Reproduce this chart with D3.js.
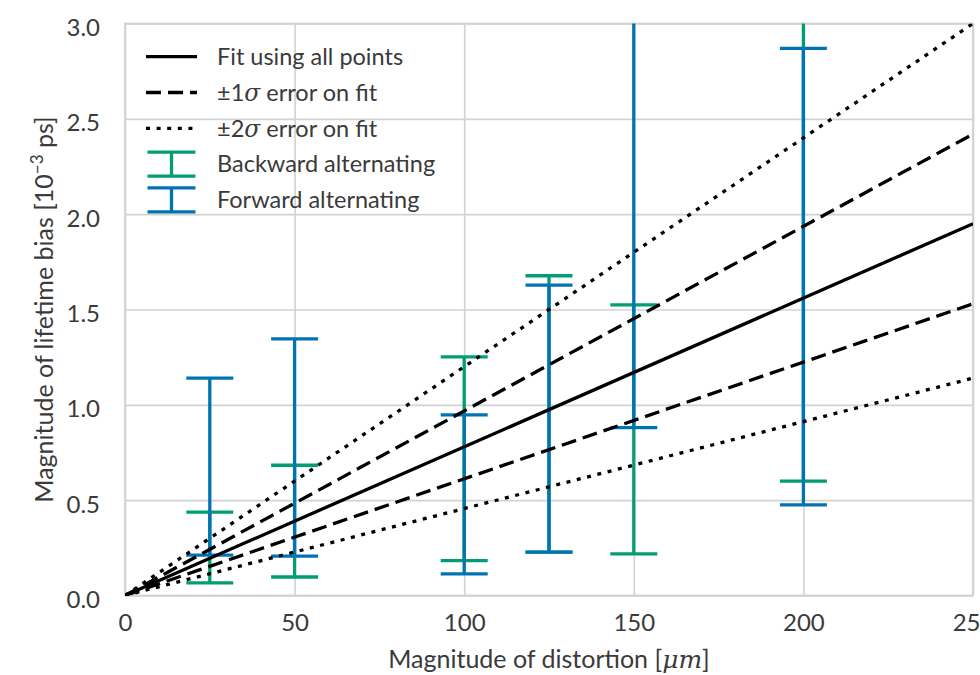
<!DOCTYPE html>
<html>
<head>
<meta charset="utf-8">
<script src="https://cdn.jsdelivr.net/npm/d3@7"></script>
<style>
  html, body { margin: 0; padding: 0; background: #ffffff; }
  svg { display: block; }
  text { font-family: "Lato", "Open Sans", sans-serif; fill: #3a3a3a; }
</style>
</head>
<body>
<svg id="chart" width="980" height="675"></svg>
<script>
// Distortion magnitudes (µm) at which the bias was measured
const distortion = [25, 50, 100, 125, 150, 200];

// Backward alternating: lower / upper ends of each error bar (10^-3 ps)
const backwardLow  = [0.066, 0.097, 0.183, 0.228, 0.218, 0.600];
const backwardHigh = [0.437, 0.683, 1.252, 1.677, 1.524, 3.300];

// Forward alternating: lower / upper ends of each error bar (10^-3 ps)
const forwardLow  = [0.212, 0.207, 0.113, 0.227, 0.880, 0.475];
const forwardHigh = [1.140, 1.346, 0.947, 1.628, 3.600, 2.870];

// Straight-line fit through the origin and its uncertainty band
const fitX       = [0, 250];
const fitCentral = [0, 1.95];
const fitPlus1   = [0, 2.42];
const fitMinus1  = [0, 1.53];
const fitPlus2   = [0, 3.00];
const fitMinus2  = [0, 1.14];

// Axis ticks
const xTicks = [0, 50, 100, 150, 200, 250];
const yTicks = [0, 0.5, 1.0, 1.5, 2.0, 2.5, 3.0];

const BLUE = "#0173b2";
const GREEN = "#029e73";
const GRID = "#d2d2d2";
const TEXT = "#404040";

const svg = d3.select("#chart");
const plot = { left: 125, right: 973, top: 23.5, bottom: 595.5 };

const x = d3.scaleLinear().domain([0, 250]).range([plot.left, plot.right]);
const y = d3.scaleLinear().domain([0, 3]).range([plot.bottom, plot.top]);

// Grid lines with tick labels (y then x)
const gridY = svg.append("g")
  .attr("transform", `translate(${plot.left},0)`)
  .call(d3.axisLeft(y).tickValues(yTicks).tickSize(-(plot.right - plot.left)).tickFormat(d3.format(".1f")).tickPadding(25));
gridY.select(".domain").remove();
gridY.selectAll("line").attr("stroke", GRID).attr("stroke-width", 1.6);
gridY.selectAll("text").attr("font-size", 24).attr("fill", TEXT).attr("dy", "0.5em");

const gridX = svg.append("g")
  .attr("transform", `translate(0,${plot.bottom})`)
  .call(d3.axisBottom(x).tickValues(xTicks).tickSize(-(plot.bottom - plot.top)).tickFormat(d3.format("d")).tickPadding(18));
gridX.select(".domain").remove();
gridX.selectAll("line").attr("stroke", GRID).attr("stroke-width", 1.6);
gridX.selectAll("text").attr("font-size", 24).attr("fill", TEXT).attr("dy", "0.71em");

// Frame
svg.append("rect")
  .attr("x", plot.left).attr("y", plot.top)
  .attr("width", plot.right - plot.left).attr("height", plot.bottom - plot.top)
  .attr("fill", "none").attr("stroke", GRID).attr("stroke-width", 1.8);

// Clip region for data
svg.append("clipPath").attr("id", "plotClip")
  .append("rect")
  .attr("x", plot.left).attr("y", plot.top)
  .attr("width", plot.right - plot.left).attr("height", plot.bottom - plot.top);

const data = svg.append("g").attr("clip-path", "url(#plotClip)");

const CAP = 23.5;
const BAR_W = 3.3;

function drawErrorBars(lows, highs, color) {
  const g = data.append("g").attr("stroke", color).attr("stroke-width", BAR_W).attr("fill", "none");
  distortion.forEach((d, i) => {
    const cx = x(d);
    g.append("line").attr("x1", cx).attr("x2", cx).attr("y1", y(lows[i])).attr("y2", y(highs[i]));
    g.append("line").attr("x1", cx - CAP).attr("x2", cx + CAP).attr("y1", y(lows[i])).attr("y2", y(lows[i]));
    g.append("line").attr("x1", cx - CAP).attr("x2", cx + CAP).attr("y1", y(highs[i])).attr("y2", y(highs[i]));
  });
}
drawErrorBars(backwardLow, backwardHigh, GREEN);
drawErrorBars(forwardLow, forwardHigh, BLUE);

const line = d3.line().x((d, i) => x(fitX[i])).y(d => y(d));
const LW = 3.3;
const DASH = "15,7";
const DOT = "4,6.6";

[
  { vals: fitMinus2, dash: DOT },
  { vals: fitPlus2, dash: DOT },
  { vals: fitMinus1, dash: DASH },
  { vals: fitPlus1, dash: DASH },
  { vals: fitCentral, dash: null }
].forEach(s => {
  data.append("path")
    .attr("d", line(s.vals))
    .attr("fill", "none")
    .attr("stroke", "#000")
    .attr("stroke-width", LW)
    .attr("stroke-dasharray", s.dash);
});

// Legend
const legend = svg.append("g");
const rowY0 = 56.7, rowStep = 35.8;
const legendRows = [
  { kind: "line", dash: null, label: ["Fit using all points"] },
  { kind: "line", dash: DASH, label: ["±1", "σ", " error on fit"] },
  { kind: "line", dash: DOT, label: ["±2", "σ", " error on fit"] },
  { kind: "bar", color: GREEN, label: ["Backward alternating"] },
  { kind: "bar", color: BLUE, label: ["Forward alternating"] }
];
legendRows.forEach((r, i) => {
  const cy = rowY0 + i * rowStep;
  if (r.kind === "line") {
    legend.append("line")
      .attr("x1", 146).attr("x2", 197).attr("y1", cy).attr("y2", cy)
      .attr("stroke", "#000").attr("stroke-width", LW)
      .attr("stroke-dasharray", r.dash);
  } else {
    const g = legend.append("g").attr("stroke", r.color).attr("stroke-width", BAR_W);
    const cx = 171.5;
    g.append("line").attr("x1", cx).attr("x2", cx).attr("y1", cy - 12).attr("y2", cy + 12);
    g.append("line").attr("x1", cx - 24).attr("x2", cx + 24).attr("y1", cy - 12).attr("y2", cy - 12);
    g.append("line").attr("x1", cx - 24).attr("x2", cx + 24).attr("y1", cy + 12).attr("y2", cy + 12);
  }
  const t = legend.append("text").attr("x", 217).attr("y", cy + 8.3).attr("font-size", 23.5);
  r.label.forEach(part => {
    const ts = t.append("tspan").text(part);
    if (part === "σ") ts.attr("font-style", "italic").attr("font-family", "DejaVu Serif");
  });
});

// Axis titles
const xt = svg.append("text")
  .attr("x", (plot.left + plot.right) / 2).attr("y", 668)
  .attr("text-anchor", "middle").attr("font-size", 25);
xt.append("tspan").text("Magnitude of distortion ");
xt.append("tspan").text("[");
xt.append("tspan").attr("font-style", "italic").attr("font-family", "DejaVu Serif").text("μm");
xt.append("tspan").text("]");

const yt = svg.append("text")
  .attr("transform", `translate(53,${(plot.top + plot.bottom) / 2}) rotate(-90)`)
  .attr("text-anchor", "middle").attr("font-size", 25);
yt.append("tspan").text("Magnitude of lifetime bias [10");
yt.append("tspan").attr("dy", -10).attr("font-size", 17).text("−3");
yt.append("tspan").attr("dy", 10).text(" ps]");
</script>
</body>
</html>
